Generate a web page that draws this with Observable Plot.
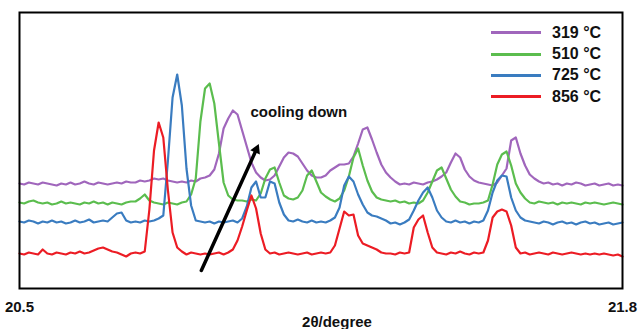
<!DOCTYPE html>
<html>
<head>
<meta charset="utf-8">
<script src="https://cdn.jsdelivr.net/npm/d3@7"></script>
<script src="https://cdn.jsdelivr.net/npm/@observablehq/plot@0.6"></script>
<style>
  body { margin: 0; background: #fff; }
  #chart { position: relative; width: 638px; height: 329px; font-family: "Liberation Sans", Arial, sans-serif; }
  #legend { position: absolute; left: 491px; top: 22px; font-weight: bold; font-size: 16px; color: #111; }
  #legend .row { display: flex; align-items: center; height: 21.4px; }
  #legend .sw { width: 50px; height: 3px; margin-right: 11px; }
</style>
</head>
<body>
<div id="chart"></div>
<script>
// 2θ scan, 20.50–21.80° in 0.01° steps (offset intensity, arbitrary units)
const twoTheta = d3.range(131).map(k => +(20.5 + k * 0.01).toFixed(2));

const series = ["319 °C", "510 °C", "725 °C", "856 °C"];
const colors = ["#a066bc", "#5bbd4e", "#3a7cc0", "#ec1c24"];

const i319 = [
  105,104,106,105,104,106,105,104,103,105, 104,106,104,105,107,105,104,106,105,104,
  105,106,105,107,106,106,108,107,108,110, 109,110,108,107,106,107,106,108,107,110,
  111,113,119,135,160,170,178,174,158,142, 126,116,111,108,109,113,122,131,136,135,
  132,125,118,113,111,111,113,118,121,124, 124,125,132,145,159,161,149,136,124,116,
  111,107,104,105,104,106,105,104,106,107, 109,112,116,126,135,131,119,112,108,106,
  105,104,103,106,113,120,148,151,135,123, 114,110,107,105,106,104,105,103,105,104,
  106,105,103,104,105,103,104,105,103,104, 103
];
const i510 = [
  86,85,87,88,86,85,86,84,85,87, 85,86,85,84,86,85,87,85,86,84,
  86,85,84,86,87,87,90,94,88,86, 85,84,86,85,84,86,87,94,110,167,
  200,205,185,145,106,93,89,88,88,87, 89,88,95,110,119,121,106,93,90,89,
  91,98,113,118,107,96,92,89,87,90, 98,112,131,140,123,108,97,91,89,88,
  87,88,86,87,85,86,85,88,96,107, 118,121,110,99,92,87,86,84,85,85,
  86,88,104,124,134,137,123,105,96,90, 86,85,87,86,85,86,84,86,85,86,
  85,84,86,85,86,85,84,85,86,85, 84
];
const i725 = [
  67,66,68,67,65,67,66,68,66,67, 65,66,68,66,67,69,66,67,68,67,
  71,75,76,68,66,67,66,68,67,68, 70,73,128,191,214,183,120,83,68,67,
  66,67,65,67,66,67,68,66,70,82, 101,107,91,91,107,105,86,74,68,67,
  69,67,66,68,66,67,66,68,71,81, 103,112,107,94,84,76,73,72,70,68,
  65,66,64,66,69,78,88,96,101,91, 78,71,67,66,68,66,67,65,67,66,
  68,78,96,108,113,112,91,78,71,68, 67,66,65,67,66,64,66,67,65,66,
  64,66,67,65,66,64,65,66,64,65, 66
];
const i856 = [
  35,34,36,35,34,39,35,34,36,35, 34,36,35,37,35,36,38,40,41,39,
  37,36,34,32,35,36,35,37,79,138, 166,151,98,56,41,37,34,36,35,34,
  35,34,35,36,34,36,39,48,62,78, 93,80,55,39,35,36,34,35,36,35,
  34,35,36,34,35,36,35,36,43,60, 77,73,74,53,45,43,41,39,36,35,
  35,34,36,35,36,61,69,73,56,41, 36,35,34,36,35,37,35,34,36,35,
  36,48,71,77,79,77,63,41,35,36, 34,35,36,35,34,36,35,34,35,36,
  35,34,35,34,35,34,35,34,33,34, 32
];

// direction of the shift on cooling
const trend = [{x1: 20.892, y1: 18, x2: 21.0175, y2: 146}];
const note = [{x: 20.998, y: 176, text: "cooling down"}];
const xTicks = [20.5, 21.8];
const xLabel = "2θ/degree";

const values = [i319, i510, i725, i856];
const rows = series.flatMap((s, j) =>
  twoTheta.map((x, k) => ({series: s, x, y: values[j][k]})));

const plot = Plot.plot({
  width: 638,
  height: 329,
  marginLeft: 19,
  marginRight: 16,
  marginTop: 12,
  marginBottom: 41,
  style: {fontFamily: "'Liberation Sans', Arial, sans-serif", background: "#fff"},
  x: {domain: [20.5, 21.8]},
  y: {domain: [0, 276], axis: null},
  color: {domain: series, range: colors},
  marks: [
    Plot.lineY(rows, {x: "x", y: "y", z: "series", stroke: "series", strokeWidth: 2.2}),
    // shaft, stopped short of the tip, then a solid triangular head
    Plot.arrow(trend, {x1: "x1", y1: "y1", x2: "x2", y2: "y2", stroke: "#000",
      strokeWidth: 3.5, headLength: 0, insetEnd: 7}),
    Plot.dot(trend, {x: "x2", y: "y2", symbol: "triangle2", r: 5, rotate: 24,
      dx: -3.2, dy: 7.1, fill: "#000", stroke: "none"}),
    Plot.text(note, {x: "x", y: "y", text: "text", textAnchor: "start",
      fontSize: 15, fontWeight: "bold", fill: "#111"}),
    Plot.frame({stroke: "#000", strokeWidth: 2}),
    Plot.axisX(xTicks, {tickSize: 0, tickPadding: 13, fontSize: 15, fontWeight: "bold",
      tickFormat: d => d.toFixed(1), fill: "#111", label: null}),
    Plot.text([xLabel], {frameAnchor: "bottom", dx: 16, dy: 34, lineAnchor: "middle",
      fontSize: 15, fontWeight: "bold", fill: "#111"})
  ]
});

const chart = document.getElementById("chart");
chart.appendChild(plot);

const legend = document.createElement("div");
legend.id = "legend";
series.forEach((s, j) => {
  const row = document.createElement("div");
  row.className = "row";
  const sw = document.createElement("span");
  sw.className = "sw";
  sw.style.background = colors[j];
  const label = document.createElement("span");
  label.textContent = s;
  row.append(sw, label);
  legend.appendChild(row);
});
chart.appendChild(legend);
</script>
</body>
</html>
